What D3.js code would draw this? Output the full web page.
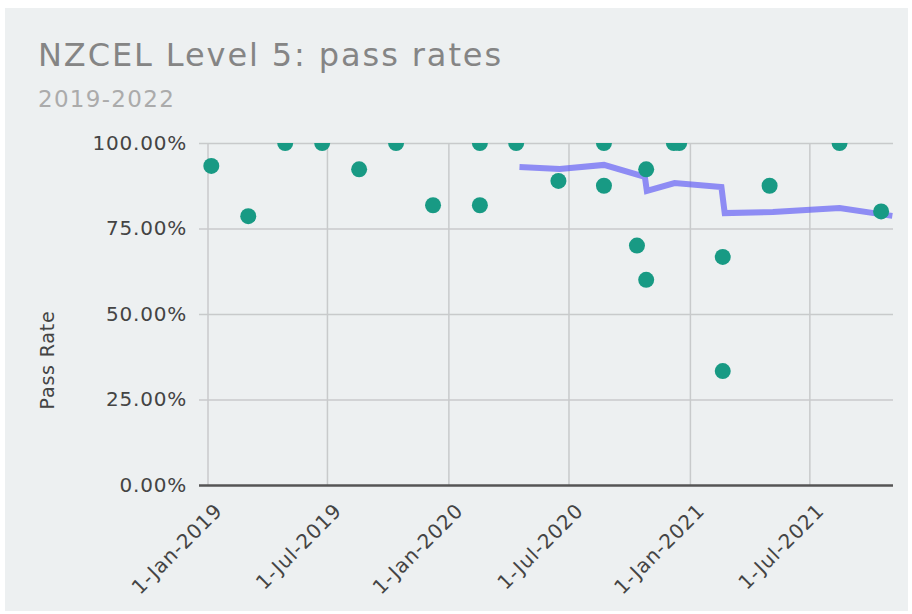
<!DOCTYPE html>
<html>
<head>
<meta charset="utf-8">
<script src="https://cdn.jsdelivr.net/npm/d3@7"></script>
<style>
  body { margin: 0; background: #fff; }
  text { font-family: "DejaVu Sans", Verdana, sans-serif; }
</style>
</head>
<body>
<svg id="chart" width="912" height="614"></svg>
<script>
// pass rate per course intake (date, rate)
const dotDates = [
  "2019-01-06", "2019-03-03", "2019-04-28", "2019-06-23", "2019-08-18",
  "2019-10-13", "2019-12-08", "2020-02-17", "2020-02-17", "2020-04-12",
  "2020-06-15", "2020-08-23", "2020-08-23", "2020-10-12", "2020-10-26",
  "2020-10-26", "2020-12-07", "2020-12-15", "2021-02-19", "2021-02-19",
  "2021-05-01", "2021-08-15", "2021-10-17"
];
const dotRates = [
  0.933, 0.786, 1, 1, 0.923,
  1, 0.818, 1, 0.818, 1,
  0.889, 1, 0.875, 0.70, 0.60,
  0.923, 1, 1, 0.667, 0.333,
  0.875, 1, 0.80
];

// rolling average line
const avgDates = [
  "2020-04-17", "2020-06-17", "2020-08-23", "2020-10-24", "2020-10-27",
  "2020-12-08", "2021-02-17", "2021-02-22", "2021-05-06", "2021-08-15",
  "2021-11-03"
];
const avgRates = [
  0.930, 0.924, 0.936, 0.901, 0.860,
  0.883, 0.871, 0.795, 0.798, 0.810,
  0.787
];

const xTicks = ["2019-01-01", "2019-07-01", "2020-01-01", "2020-07-01", "2021-01-01", "2021-07-01"];
const yTicks = [0, 0.25, 0.5, 0.75, 1];

const parse = d3.timeParse("%Y-%m-%d");
const dots = dotDates.map((d, i) => ({ date: parse(d), rate: dotRates[i] }));
const avg = avgDates.map((d, i) => ({ date: parse(d), rate: avgRates[i] }));

const svg = d3.select("#chart");
const plotLeft = 208, plotRight = 893, plotTop = 143, plotBottom = 485;

svg.append("rect")
  .attr("x", 5).attr("y", 8)
  .attr("width", 903).attr("height", 603)
  .attr("fill", "#edf0f1");

const x = d3.scaleTime()
  .domain([parse("2019-01-01"), parse("2021-11-04")])
  .range([plotLeft, plotRight]);

const y = d3.scaleLinear().domain([0, 1]).range([plotBottom, plotTop]);

svg.append("defs").append("clipPath").attr("id", "plot")
  .append("rect")
  .attr("x", 0).attr("y", plotTop)
  .attr("width", 912).attr("height", plotBottom - plotTop);

// title
svg.append("text")
  .attr("x", 38).attr("y", 66)
  .attr("fill", "#858585")
  .style("font-size", "32px")
  .style("letter-spacing", "1.9px")
  .text("NZCEL Level 5: pass rates");

svg.append("text")
  .attr("x", 38).attr("y", 107)
  .attr("fill", "#ababab")
  .style("font-size", "23px")
  .style("letter-spacing", "1.3px")
  .text("2019-2022");

// vertical grid
svg.append("g")
  .selectAll("line")
  .data(xTicks.map(parse))
  .join("line")
  .attr("x1", (d) => x(d)).attr("x2", (d) => x(d))
  .attr("y1", plotTop).attr("y2", plotBottom)
  .attr("stroke", "#c8cacb")
  .attr("stroke-width", 1.5);

// horizontal grid + y labels
const yAxis = svg.append("g")
  .attr("transform", `translate(${plotRight},0)`)
  .call(d3.axisLeft(y).tickValues(yTicks).tickSize(plotRight - 199).tickFormat(d3.format(".2%")));
yAxis.select(".domain").remove();
yAxis.selectAll(".tick line")
  .attr("stroke", (d) => (d === 0 ? "#555" : "#c8cacb"))
  .attr("stroke-width", (d) => (d === 0 ? 2.5 : 1.5));
yAxis.selectAll(".tick text")
  .attr("x", -(plotRight - 187))
  .attr("fill", "#444")
  .style("font-size", "20px")
  .style("letter-spacing", "0.8px")
  .style("font-family", "DejaVu Sans, sans-serif");

// x labels
const xAxis = svg.append("g")
  .attr("transform", `translate(0,${plotBottom})`)
  .call(d3.axisBottom(x).tickValues(xTicks.map(parse)).tickSize(0).tickFormat(d3.timeFormat("%-d-%b-%Y")));
xAxis.select(".domain").remove();
xAxis.selectAll(".tick text")
  .attr("fill", "#444")
  .style("font-size", "20px")
  .style("letter-spacing", "0.8px")
  .style("font-family", "DejaVu Sans, sans-serif")
  .attr("text-anchor", "end")
  .attr("dy", 0)
  .attr("y", 0)
  .attr("transform", "translate(15,27) rotate(-45)");

// axis title
svg.append("text")
  .attr("transform", "translate(54,360) rotate(-90)")
  .attr("text-anchor", "middle")
  .attr("fill", "#444")
  .style("font-size", "19px")
  .style("letter-spacing", "0.8px")
  .text("Pass Rate");

const plot = svg.append("g").attr("clip-path", "url(#plot)");

// rolling average
plot.append("path")
  .datum(avg)
  .attr("fill", "none")
  .attr("stroke", "#6561f5")
  .attr("stroke-opacity", 0.7)
  .attr("stroke-width", 6)
  .attr("d", d3.line().x((d) => x(d.date)).y((d) => y(d.rate)));

// points
plot.selectAll(".dot")
  .data(dots)
  .join("circle")
  .attr("class", "dot")
  .attr("cx", (d) => x(d.date))
  .attr("cy", (d) => y(d.rate))
  .attr("r", 8)
  .attr("fill", "#189a84");
</script>
</body>
</html>
